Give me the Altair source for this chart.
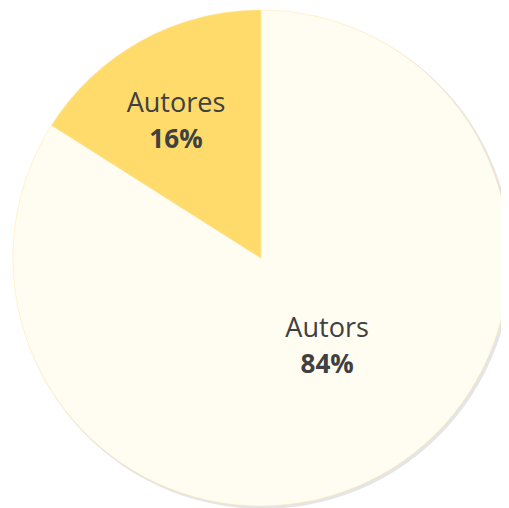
import altair as alt
import pandas as pd

categories = ["Autors", "Autores"]
values = [84, 16]
labels = ["84%", "16%"]
order = [0, 1]

df = pd.DataFrame({"cat": categories, "val": values, "pct": labels, "ord": order})

color_scale = alt.Scale(domain=["Autors", "Autores"], range=["#fffcf1", "#ffdb6c"])
theta_scale = alt.Scale(domain=[0, 100], range=[0, 6.283185307179586])

CX, CY = 257, 250
R = 252

base = alt.Chart(df).transform_window(
    cum="sum(val)", sort=[alt.SortField("ord")]
).transform_calculate(
    start="datum.cum - datum.val", mid="datum.cum - datum.val / 2"
)

shadow = base.mark_arc(radius=R + 1, color="#d4d4d4", opacity=0.6).encode(
    theta=alt.Theta("start:Q", scale=theta_scale), theta2="cum:Q",
    x=alt.value(CX + 2), y=alt.value(CY + 2),
)

pie = base.mark_arc(radius=R, stroke="#ffe6a0", strokeWidth=0.5).encode(
    theta=alt.Theta("start:Q", scale=theta_scale), theta2="cum:Q",
    color=alt.Color("cat:N", scale=color_scale, legend=None),
    x=alt.value(CX), y=alt.value(CY),
)

def label_layer(cat, r, dx, dy_name, dy_pct):
    sub = base.transform_filter(alt.datum.cat == cat)
    enc = dict(theta=alt.Theta("mid:Q", scale=theta_scale), x=alt.value(CX), y=alt.value(CY))
    name = sub.mark_text(radius=r, dx=dx, dy=dy_name, font="Open Sans", fontSize=27.5,
                         color="#404040").encode(text="cat:N", **enc)
    pct = sub.mark_text(radius=r, dx=dx, dy=dy_pct, font="Open Sans", fontSize=26.5,
                        fontWeight="bold", color="#404040").encode(text="pct:N", **enc)
    return name + pct

chart = alt.layer(
    shadow, pie,
    label_layer("Autores", 162.5, -8, -14, 22.5),
    label_layer("Autors", 112.7, 13, -26.5, 10),
).properties(
    width=501, height=500, autosize=alt.AutoSizeParams(type="none"), padding=0
).configure_view(stroke=None)

chart.save("out.html", embed_options={"renderer": "svg", "actions": False})
